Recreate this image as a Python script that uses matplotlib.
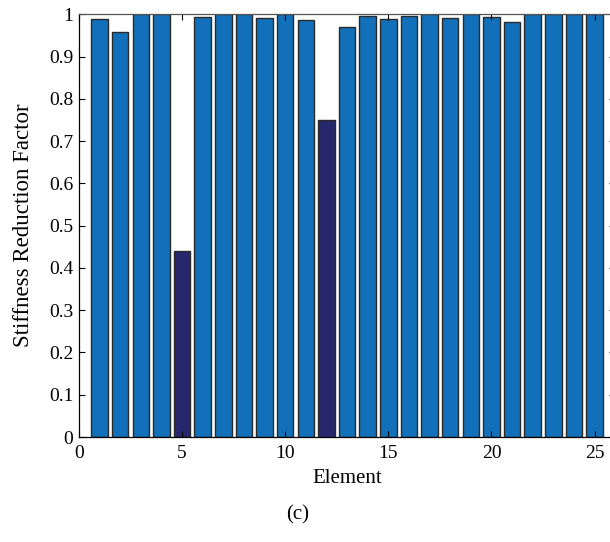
import matplotlib
matplotlib.use("Agg")
import matplotlib.pyplot as plt
import numpy as np

# stiffness reduction factor per element
elements = np.arange(1, 26)
srf = [0.988, 0.957, 1.0, 1.0, 0.441, 0.993, 1.0, 1.0, 0.990, 1.0,
       0.987, 0.750, 0.970, 0.997, 0.988, 0.995, 1.0, 0.990, 1.0, 0.993,
       0.982, 1.0, 1.0, 1.0, 1.0]
damaged = [5, 12]

plt.rcParams["font.family"] = ["Liberation Serif", "DejaVu Serif"]

fig = plt.figure(figsize=(6.1, 5.42), dpi=100)
ax = fig.add_axes([0.1295, 0.1937, 0.879, 0.780])

colors = ["#27276e" if e in damaged else "#1270ba" for e in elements]
ax.bar(elements, srf, width=0.8, color=colors, edgecolor="#2a2a2a", linewidth=1.0)

ax.set_xlim(0, 26)
ax.set_ylim(0, 1)
ax.set_xticks(np.arange(0, 26, 5))
ax.set_yticks(np.arange(0, 1.01, 0.1))
ax.set_yticklabels(["0"] + [f"{v:.1f}" for v in np.arange(0.1, 0.95, 0.1)] + ["1"])
ax.tick_params(direction="in", length=4, width=0.8, labelsize=14, top=True, right=True, pad=4)
ax.tick_params(axis="x", pad=6)
for s in ax.spines.values():
    s.set_linewidth(0.9)
ax.spines["top"].set_color("#555555")

ax.set_xlabel("Element", fontsize=15, va="center")
ax.xaxis.set_label_coords(0.5, -0.097)
ax.set_ylabel("Stiffness Reduction Factor", fontsize=16.5, va="center")
ax.yaxis.set_label_coords(-0.103, 0.5)
fig.text(0.4885, 1 - 515 / 542, "(c)", ha="center", va="center", fontsize=15)

fig.savefig("out.png", dpi=100)
